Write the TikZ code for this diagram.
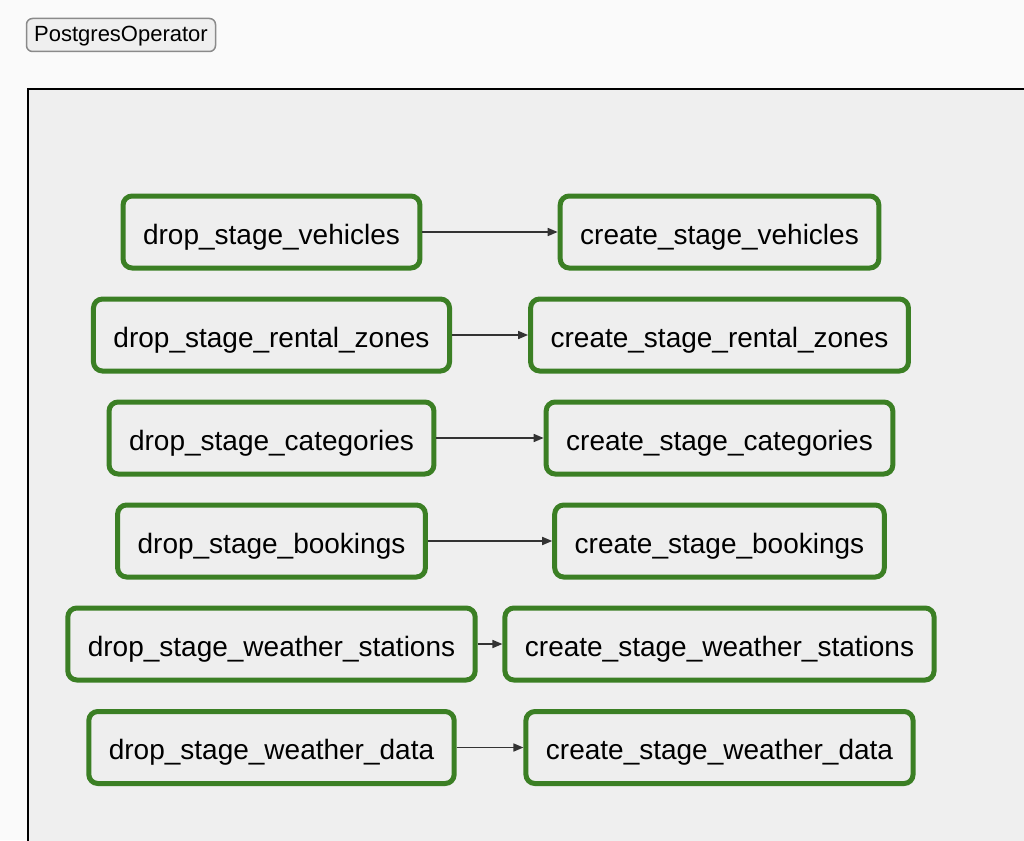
\documentclass[tikz,border=0pt]{standalone}
\usepackage{fontspec}
\setmainfont{Liberation Sans}
\usetikzlibrary{arrows.meta}
\definecolor{pagebg}{HTML}{FAFAFA}
\definecolor{clusterbg}{HTML}{EFEFEF}
\definecolor{taskgreen}{HTML}{3B7F24}
\definecolor{taskfill}{HTML}{EEEEEE}
\definecolor{edgegray}{HTML}{333333}
\definecolor{legendborder}{HTML}{8A8A8A}
\tikzset{
  taskbox/.style={draw=taskgreen, line width=5pt, fill=taskfill, rounded corners=9pt,
    minimum height=72pt, inner xsep=20pt, inner ysep=0pt,
    text height=24pt, text depth=0pt,
    font=\fontsize{28}{32}\selectfont, text=black},
  legendbox/.style={draw=legendborder, line width=1.5pt, fill=clusterbg, rounded corners=6pt,
    minimum height=33pt, minimum width=189pt, inner sep=0pt,
    text height=14pt, text depth=0pt,
    font=\fontsize{22}{26}\selectfont, text=black},
  flow/.style={draw=edgegray, line width=1.6pt, -{Triangle[length=10pt,width=8pt]}}
}
\begin{document}
\begin{tikzpicture}[x=1pt,y=-1pt]
\useasboundingbox (0,0) rectangle (1024,840);
\clip (0,0) rectangle (1024,840);
\fill[pagebg] (0,0) rectangle (1024,840);
\draw[black, line width=2pt, fill=clusterbg] (28,89) rectangle (1060,880);
\node[legendbox] (legend) at (121,35) {PostgresOperator};

\node[taskbox] (d1) at (271.5,232) {drop\_stage\_vehicles};
\node[taskbox] (c1) at (719.5,232) {create\_stage\_vehicles};
\node[taskbox] (d2) at (271.5,335) {drop\_stage\_rental\_zones};
\node[taskbox] (c2) at (719.5,335) {create\_stage\_rental\_zones};
\node[taskbox] (d3) at (271.5,438) {drop\_stage\_categories};
\node[taskbox] (c3) at (719.5,438) {create\_stage\_categories};
\node[taskbox] (d4) at (271.5,541) {drop\_stage\_bookings};
\node[taskbox] (c4) at (719.5,541) {create\_stage\_bookings};
\node[taskbox] (d5) at (271.5,644) {drop\_stage\_weather\_stations};
\node[taskbox] (c5) at (719.5,644) {create\_stage\_weather\_stations};
\node[taskbox] (d6) at (271.5,747.5) {drop\_stage\_weather\_data};
\node[taskbox] (c6) at (719.5,747.5) {create\_stage\_weather\_data};

\foreach \i in {1,...,6} {
  \draw[flow] (d\i.east) -- (c\i.west);
}
\end{tikzpicture}
\end{document}
